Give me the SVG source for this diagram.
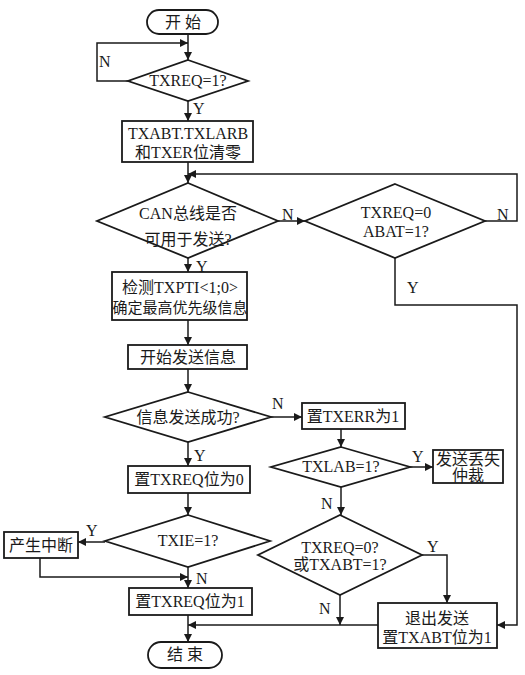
<svg xmlns="http://www.w3.org/2000/svg" width="525" height="675" viewBox="0 0 525 675">
<defs>
<marker id="ah" viewBox="0 0 10 10" refX="10" refY="5" markerWidth="9" markerHeight="8" markerUnits="userSpaceOnUse" orient="auto">
<path d="M0,0 L10,5 L0,10 z" fill="#1a1a1a"/>
</marker>
<style>
.s{fill:#fff;stroke:#1a1a1a;stroke-width:1.8}
.l{fill:none;stroke:#1a1a1a;stroke-width:1.5}
.a{fill:none;stroke:#1a1a1a;stroke-width:1.5;marker-end:url(#ah)}
text{font-family:"Liberation Serif","Noto Sans CJK SC",serif;font-size:16px;fill:#1a1a1a;text-anchor:middle}
.lb{font-size:16px;text-anchor:start}
.sm{font-size:15px}
</style>
</defs>
<rect width="525" height="675" fill="#fff"/>
<g id="connectors">
<path class="a" d="M188,34 V60"/>
<path class="a" d="M128,81 H97 V43 H188"/>
<path class="a" d="M188,101 V121"/>
<path class="a" d="M188,162 V183"/>
<path class="a" d="M485,221 H517 V174 H188"/>
<path class="a" d="M278,221 H305"/>
<path class="a" d="M395,258 V305 H517 V625 H497"/>
<path class="a" d="M188,258 V272"/>
<path class="a" d="M188,320 V345"/>
<path class="a" d="M188,369 V392"/>
<path class="a" d="M271,417 H302"/>
<path class="a" d="M341,429 V447"/>
<path class="a" d="M410,467 H433"/>
<path class="a" d="M188,442 V466"/>
<path class="a" d="M188,493 V515"/>
<path class="a" d="M341,487 V515"/>
<path class="a" d="M105,542 H78"/>
<path class="a" d="M40,558 V577 H188"/>
<path class="a" d="M188,567 V588"/>
<path class="a" d="M188,615 V642"/>
<path class="a" d="M378,625 H188"/>
<path class="a" d="M422,555 H447 V603"/>
<path class="a" d="M340,595 V625"/>
<text class="lb" x="99" y="67">N</text>
<text class="lb" x="193" y="114">Y</text>
<text class="lb" x="282" y="220">N</text>
<text class="lb" x="497" y="220">N</text>
<text class="lb" x="407" y="293">Y</text>
<text class="lb" x="196" y="272">Y</text>
<text class="lb" x="272" y="409">N</text>
<text class="lb" x="412" y="462">Y</text>
<text class="lb" x="194" y="461">Y</text>
<text class="lb" x="321" y="509">N</text>
<text class="lb" x="86" y="536">Y</text>
<text class="lb" x="196" y="584">N</text>
<text class="lb" x="427" y="552">Y</text>
<text class="lb" x="319" y="614">N</text>
</g>
<g id="start"><rect class="s" x="147" y="10" width="71" height="24" rx="12"/><text x="183" y="28">开 始</text></g>
<g id="d_txreq1"><polygon class="s" points="188,60 248,81 188,101 128,81"/><text x="188" y="86">TXREQ=1?</text></g>
<g id="b_clear"><rect class="s" x="122" y="121" width="131" height="41"/><text x="188" y="139">TXABT.TXLARB</text><text x="188" y="158">和TXER位清零</text></g>
<g id="d_can"><polygon class="s" points="188,183 278,221 188,258 97,221"/><text x="188" y="219">CAN总线是否</text><text x="188" y="245">可用于发送?</text></g>
<g id="d_abat"><polygon class="s" points="395,184 485,221 395,258 305,221"/><text x="396" y="218">TXREQ=0</text><text x="396" y="237">ABAT=1?</text></g>
<g id="b_detect"><rect class="s" x="112" y="272" width="135" height="48"/><text x="180" y="293">检测TXPTI&lt;1;0&gt;</text><text class="sm" x="180" y="313">确定最高优先级信息</text></g>
<g id="b_send"><rect class="s" x="128" y="345" width="119" height="24"/><text x="188" y="363">开始发送信息</text></g>
<g id="d_ok"><polygon class="s" points="188,392 271,417 188,442 105,417"/><text x="188" y="423">信息发送成功?</text></g>
<g id="b_txerr"><rect class="s" x="302" y="403" width="103" height="26"/><text x="353" y="422">置TXERR为1</text></g>
<g id="d_txlab"><polygon class="s" points="341,447 410,467 341,487 271,467"/><text x="341" y="472">TXLAB=1?</text></g>
<g id="b_lost"><rect class="s" x="433" y="450" width="70" height="33"/><text x="468" y="465">发送丢失</text><text x="468" y="481">仲裁</text></g>
<g id="b_txreq0"><rect class="s" x="128" y="466" width="122" height="27"/><text x="189" y="485">置TXREQ位为0</text></g>
<g id="d_txie"><polygon class="s" points="188,515 270,541 188,567 105,541"/><text x="188" y="546">TXIE=1?</text></g>
<g id="b_int"><rect class="s" x="4" y="532" width="74" height="26"/><text x="41" y="551">产生中断</text></g>
<g id="b_txreq1"><rect class="s" x="129" y="588" width="123" height="27"/><text x="190" y="607">置TXREQ位为1</text></g>
<g id="d_abt"><polygon class="s" points="340,515 422,555 340,595 258,555"/><text x="340" y="553">TXREQ=0?</text><text x="340" y="570">或TXABT=1?</text></g>
<g id="b_exit"><rect class="s" x="378" y="603" width="119" height="45"/><text x="437" y="624">退出发送</text><text x="437" y="643">置TXABT位为1</text></g>
<g id="end"><rect class="s" x="148" y="642" width="74" height="26" rx="13"/><text x="185" y="660">结 束</text></g>
</svg>
